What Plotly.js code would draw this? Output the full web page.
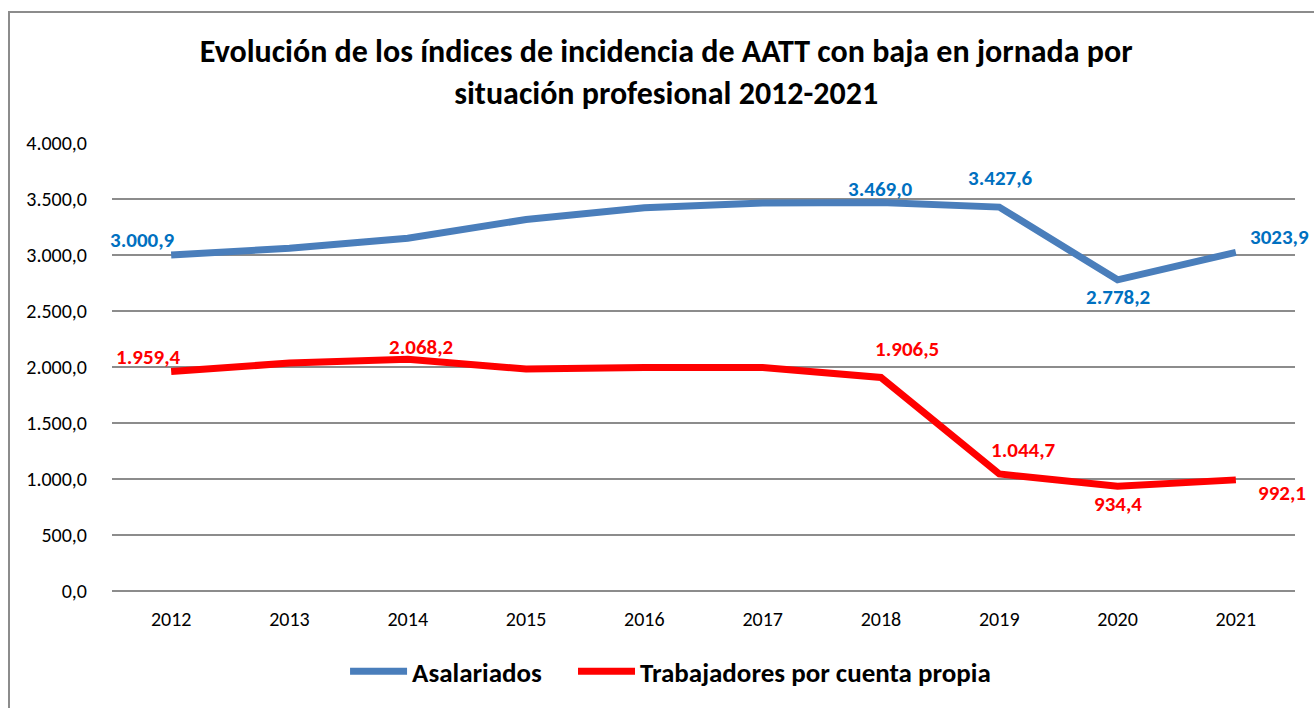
<!DOCTYPE html>
<html>
<head>
<meta charset="utf-8">
<script src="https://cdn.plot.ly/plotly-3.0.1.min.js"></script>
<style>
html,body{margin:0;padding:0;background:#fff;}
#wrap{position:relative;width:1314px;height:708px;}
#chart{position:absolute;left:0;top:0;width:1314px;height:708px;}
#frame{position:absolute;left:8px;top:11px;width:1320px;height:720px;border:2px solid #8c8c8c;box-sizing:border-box;pointer-events:none;}
</style>
</head>
<body>
<div id="wrap"><div id="chart"></div><div id="frame"></div></div>
<script>
const years = ["2012","2013","2014","2015","2016","2017","2018","2019","2020","2021"];
const asalariados = [3000.9, 3060, 3150, 3317, 3421, 3465, 3469.0, 3427.6, 2778.2, 3023.9];
const cuentaPropia = [1959.4, 2035, 2068.2, 1982, 1995, 1995, 1906.5, 1044.7, 934.4, 992.1];
const asalLabels = ["3.000,9", null, null, null, null, null, "3.469,0", "3.427,6", "2.778,2", "3023,9"];
const propLabels = ["1.959,4", null, "2.068,2", null, null, null, "1.906,5", "1.044,7", "934,4", "992,1"];
const yTicks = [0, 500, 1000, 1500, 2000, 2500, 3000, 3500, 4000];

const FONT = "Carlito, Calibri, Lato, 'Open Sans', sans-serif";
const BLUE = "#4a7ebb", BLUE_T = "#0070c0", RED = "#ff0000";

const asalShift = [[-29,15],null,null,null,null,null,[0,13],[1,29],[0,-17],[44,15]];
const propShift = [[-23,15],null,[13,12],null,null,null,[26,28],[24,24],[0,-18],[46,-13]];

const annotations = [];
function addLabels(vals, labels, shifts, color){
  for (let i = 0; i < years.length; i++) {
    if (!labels[i]) continue;
    annotations.push({x: i, y: vals[i], xref:'x', yref:'y', text: labels[i], showarrow:false,
      xanchor:'center', yanchor:'middle', xshift: shifts[i][0], yshift: shifts[i][1],
      font:{family:FONT, size:21, color:color, weight:'bold'}});
  }
}
addLabels(asalariados, asalLabels, asalShift, BLUE_T);
addLabels(cuentaPropia, propLabels, propShift, RED);

const data = [
  {x: years, y: asalariados, type:'scatter', mode:'lines', name:'Asalariados',
   line:{color:BLUE, width:7}, legend:'legend'},
  {x: years, y: cuentaPropia, type:'scatter', mode:'lines', name:'Trabajadores por cuenta propia',
   line:{color:RED, width:7}, legend:'legend2'}
];

const legendStyle = {orientation:'h', xanchor:'left', y:-0.18, yanchor:'middle',
  font:{family:FONT, size:27, color:'#000', weight:'bold'}, itemwidth:57, bgcolor:'rgba(0,0,0,0)'};

const layout = {
  width:1314, height:708,
  margin:{l:112, r:19, t:143, b:114},
  paper_bgcolor:'#fff', plot_bgcolor:'#fff',
  separators:',.',
  title:{text:'Evolución de los índices de incidencia de AATT con baja en jornada por<br>situación profesional 2012-2021',
    x:0.507, xanchor:'center', xref:'container', y:0.9125, yanchor:'middle',
    font:{family:FONT, size:32, color:'#000', weight:'bold'}},
  xaxis:{type:'category', range:[-0.5, 9.5], showgrid:false, zeroline:false, showline:false,
    ticks:'outside', ticklen:10, tickcolor:'rgba(0,0,0,0)',
    tickfont:{family:FONT, size:20, color:'#000'}},
  yaxis:{range:[0,4000], tickvals:yTicks, tickformat:',.1f', showgrid:true, gridcolor:'#8c8c8c', gridwidth:2,
    zeroline:true, zerolinecolor:'#8c8c8c', zerolinewidth:2, showline:false,
    ticks:'outside', ticklen:20, tickcolor:'rgba(0,0,0,0)',
    tickfont:{family:FONT, size:20, color:'#000'}},
  showlegend:true,
  legend: Object.assign({}, legendStyle, {x:0.197}),
  legend2: Object.assign({}, legendStyle, {x:0.3897}),
  annotations: annotations
};

Plotly.newPlot('chart', data, layout, {displayModeBar:false, staticPlot:true});
</script>
</body>
</html>
